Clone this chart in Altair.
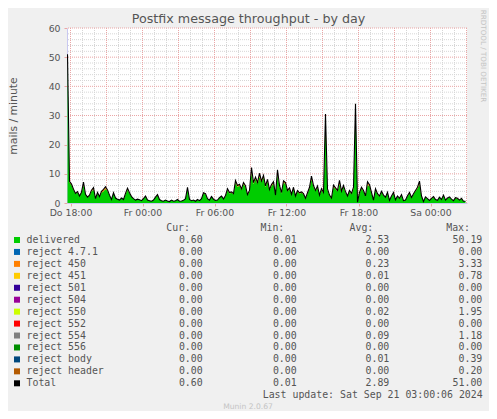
import altair as alt
import pandas as pd

TITLE = "Postfix message throughput - by day"
Y_TITLE = "mails / minute"
RRD_TEXT = "RRDTOOL / TOBI OETIKER"
LAST_UPDATE = "Last update: Sat Sep 21 03:00:06 2024"
MUNIN = "Munin 2.0.67"

# 10-minute samples starting Thu 2024-09-19 17:45
START = "2024-09-19 17:45"

delivered = [
    50.19, 7.0, 6.2, 4.5, 3.3, 3.6, 2.4, 3.5, 6.2, 3.0, 2.0, 2.5, 4.0, 4.7, 1.5, 3.3, 2.2, 3.5, 4.0, 4.8,
    4.2, 2.7, 1.2, 3.3, 1.7, 1.3, 1.0, 1.7, 1.2, 3.0, 4.6, 3.3, 2.2, 1.5, 1.0, 1.3, 1.1, 0.8, 1.5, 2.2,
    1.0, 0.8, 0.6, 1.0, 2.0, 2.7, 1.2, 0.8, 0.6, 1.0, 0.7, 0.5, 1.0, 0.6, 0.8, 1.2, 0.6, 0.7, 0.9, 1.5,
    4.8, 1.2, 0.8, 1.0, 0.6, 1.2, 0.8, 1.5, 3.3, 3.0, 1.5, 1.0, 2.2, 1.3, 0.9, 1.0, 1.8, 2.2, 1.4, 2.4,
    4.5, 3.3, 3.5, 3.0, 7.1, 5.5, 6.0, 4.5, 6.5, 5.5, 2.7, 4.0, 10.2, 6.5, 8.2, 6.5, 9.0, 7.0, 8.8, 5.5,
    7.5, 4.3, 5.8, 6.7, 2.5, 9.9, 5.6, 3.3, 7.0, 6.5, 4.0, 4.8, 2.8, 5.0, 2.2, 4.0, 3.2, 3.5, 3.0, 1.5,
    3.2, 5.0, 8.1, 5.6, 4.0, 5.3, 2.5, 4.5, 3.3, 27.2, 4.5, 2.5, 1.6, 5.6, 4.8, 4.0, 6.5, 3.8, 5.5, 3.6,
    2.2, 4.0, 3.0, 5.0, 33.1, 0.3, 3.3, 5.0, 4.0, 2.2, 6.2, 5.8, 3.3, 1.0, 4.5, 3.0, 2.2, 3.7, 2.5, 1.9,
    3.4, 0.9, 2.2, 3.3, 1.1, 2.2, 1.5, 2.7, 0.8, 1.0, 2.3, 3.3, 1.8, 3.0, 4.0, 5.0, 6.5, 2.2, 0.5, 2.0,
    1.5, 0.9, 1.5, 2.0, 1.2, 0.9, 1.9, 1.2, 2.5, 1.0, 1.6, 2.0, 1.3, 0.8, 1.7, 1.5, 1.0, 1.5, 0.6, 0.6,
]

reject_450 = [
    0.8, 0.4, 0.3, 0.2, 0.0, 0.3, 0.0, 0.2, 0.5, 0.0, 0.0, 0.2, 0.4, 0.6, 0.0, 0.3, 0.0, 0.5, 0.7, 0.4,
    0.3, 0.0, 0.0, 0.2, 0.0, 0.0, 0.0, 0.0, 0.0, 0.3, 0.5, 0.2, 0.0, 0.0, 0.0, 0.0, 0.0, 0.0, 0.0, 0.2,
    0.0, 0.0, 0.0, 0.0, 0.0, 0.2, 0.0, 0.0, 0.0, 0.0, 0.0, 0.0, 0.0, 0.0, 0.0, 0.0, 0.0, 0.0, 0.0, 0.0,
    0.3, 0.0, 0.0, 0.0, 0.0, 0.0, 0.0, 0.0, 0.2, 0.2, 0.0, 0.0, 0.0, 0.0, 0.0, 0.0, 0.0, 0.2, 0.0, 0.2,
    0.4, 0.3, 0.3, 0.2, 0.6, 0.5, 0.4, 0.3, 0.5, 0.4, 0.2, 0.3, 0.8, 0.5, 0.7, 0.5, 0.6, 0.5, 0.7, 0.4,
    0.6, 0.3, 0.5, 0.6, 0.2, 0.7, 0.4, 0.3, 0.6, 0.5, 0.3, 0.4, 0.2, 0.4, 0.2, 0.3, 0.3, 0.3, 0.2, 0.1,
    0.3, 0.4, 0.6, 0.4, 0.3, 0.5, 0.2, 0.4, 0.3, 3.33, 0.3, 0.2, 0.1, 0.5, 0.4, 0.3, 0.6, 0.3, 0.5, 0.3,
    0.2, 0.3, 0.3, 0.4, 0.9, 0.0, 0.3, 0.4, 0.3, 0.2, 0.5, 0.5, 0.3, 0.0, 0.4, 0.2, 0.2, 0.3, 0.2, 0.1,
    0.3, 0.0, 0.2, 0.3, 0.0, 0.2, 0.1, 0.2, 0.0, 0.0, 0.2, 0.3, 0.1, 0.2, 0.3, 0.4, 0.5, 0.2, 0.0, 0.1,
    0.0, 0.0, 0.1, 0.2, 0.0, 0.0, 0.1, 0.0, 0.2, 0.0, 0.1, 0.1, 0.0, 0.0, 0.1, 0.1, 0.0, 0.1, 0.0, 0.0,
]

# sparse: sample index -> value
reject_554_points = {8: 0.5, 19: 0.4, 60: 0.3, 92: 1.18, 96: 0.6, 105: 0.8, 122: 0.5, 136: 0.7, 150: 0.6, 176: 0.5}

legend_names = ["delivered", "reject 4.7.1", "reject 450", "reject 451", "reject 501", "reject 504",
                "reject 550", "reject 552", "reject 554", "reject 556", "reject body", "reject header", "Total"]
legend_colors = ["#00CC00", "#0066B3", "#FF8000", "#FFCC00", "#330099", "#990099",
                 "#CCFF00", "#FF0000", "#808080", "#008F00", "#00487D", "#B35A00", "#000000"]
legend_cur = [0.60, 0, 0, 0, 0, 0, 0, 0, 0, 0, 0, 0, 0.60]
legend_min = [0.01, 0, 0, 0, 0, 0, 0, 0, 0, 0, 0, 0, 0.01]
legend_avg = [2.53, 0.00, 0.23, 0.01, 0.00, 0.00, 0.02, 0.00, 0.09, 0.00, 0.01, 0.00, 2.89]
legend_max = [50.19, 0.00, 3.33, 0.78, 0.00, 0.00, 1.95, 0.00, 1.18, 0.00, 0.39, 0.20, 51.00]
headers = ["Cur:", "Min:", "Avg:", "Max:"]

y_labels = [0, 10, 20, 30, 40, 50, 60]
y_major_grid = [10, 20, 30, 40, 50, 60]
y_minor_grid = [2, 4, 6, 8, 12, 14, 16, 18, 22, 24, 26, 28, 32, 34, 36, 38, 42, 44, 46, 48, 52, 54, 56, 58]
x_label_times = ["2024-09-19 18:00", "2024-09-20 00:00", "2024-09-20 06:00",
                 "2024-09-20 12:00", "2024-09-20 18:00", "2024-09-21 00:00"]
X_START = "2024-09-19 17:42:30"
X_END = "2024-09-21 03:02:30"

# ---------------------------------------------------------------- build tables
FMT = "%Y-%m-%dT%H:%M:%S"
times = pd.date_range(START, periods=len(delivered), freq="10min").strftime(FMT)
reject_554 = [reject_554_points.get(i, 0.0) for i in range(len(delivered))]
stack_series = [("delivered", delivered), ("reject 450", reject_450), ("reject 554", reject_554)]
rows = []
for k, (name, vals) in enumerate(stack_series):
    for t, v in zip(times, vals):
        rows.append({"time": t, "series": name, "value": v, "idx": k})
df = pd.DataFrame(rows)


def dt(s):
    ts = pd.Timestamp(s)
    return alt.DateTime(year=ts.year, month=ts.month, date=ts.day,
                        hours=ts.hour, minutes=ts.minute, seconds=ts.second)


xscale = alt.Scale(domain=[dt(X_START), dt(X_END)])
yscale = alt.Scale(domain=[0, 60], nice=False, zero=True)

grid_major_x = pd.date_range("2024-09-19 18:00", "2024-09-21 03:00", freq="3h")
grid_minor_x = [t for t in pd.date_range("2024-09-19 18:00", "2024-09-21 03:00", freq="1h") if t.hour % 3]

MINOR = "#d6d6d6"
MAJOR = "#eaa6a6"
AXIS_C = "#c8c8f0"
TXT = "#555555"
MONO = "DejaVu Sans Mono"

x_axis = alt.Axis(
    values=[dt(s) for s in x_label_times],
    labelExpr="['So','Mo','Di','Mi','Do','Fr','Sa'][day(datum.value)] + ' ' + timeFormat(datum.value, '%H:%M')",
    title=None, grid=False, domainColor=AXIS_C, tickColor=MAJOR, tickSize=3, labelPadding=2.5,
    labelOverlap=False, labelFlush=False)
y_axis = alt.Axis(
    values=y_labels, tickCount=7, format="d", title=Y_TITLE, grid=False, domainColor=AXIS_C,
    tickColor=MAJOR, tickSize=3, labelPadding=4, labelOverlap=False, labelFlush=False,
    titleAngle=270, titleX=-53.5, titleY=87.5, titleAlign="center", titleBaseline="middle")

# every plot layer carries the same shared axis definition
X = lambda f: alt.X(f, scale=xscale, axis=x_axis)
Y = lambda f, **kw: alt.Y(f, scale=yscale, axis=y_axis, **kw)

hminor = alt.Chart(pd.DataFrame({"value": y_minor_grid})).mark_rule(
    color=MINOR, strokeDash=[1, 1], strokeWidth=1).encode(y=Y("value:Q"))
vminor = alt.Chart(pd.DataFrame({"time": pd.DatetimeIndex(grid_minor_x).strftime(FMT)})).mark_rule(
    color=MINOR, strokeDash=[1, 1], strokeWidth=1).encode(x=X("time:T"))
hmajor = alt.Chart(pd.DataFrame({"value": y_major_grid})).mark_rule(
    color=MAJOR, strokeDash=[1, 1], strokeWidth=1).encode(y=Y("value:Q"))
vmajor = alt.Chart(pd.DataFrame({"time": grid_major_x.strftime(FMT)})).mark_rule(
    color=MAJOR, strokeDash=[1, 1], strokeWidth=1).encode(x=X("time:T"))

area = alt.Chart(df).mark_area(clip=True, interpolate="linear").encode(
    x=X("time:T"),
    y=Y("value:Q", stack="zero"),
    color=alt.Color("series:N", scale=alt.Scale(domain=[s for s, _ in stack_series],
                                                range=["#00CC00", "#FF8000", "#808080"]), legend=None),
    order=alt.Order("idx:Q", sort="ascending"),
)
total_line = alt.Chart(df).transform_aggregate(
    value="sum(value)", groupby=["time"]
).mark_line(color="black", strokeWidth=1.1, clip=True).encode(
    x=X("time:T"),
    y=Y("value:Q"),
)

plot = alt.layer(hminor, vminor, hmajor, vmajor, area, total_line)

# ---------------------------------------------------------------- legend table
leg = pd.DataFrame({
    "row": list(range(len(legend_names))),
    "name": legend_names, "color": legend_colors,
    "cur": legend_cur, "min": legend_min, "avg": legend_avg, "max": legend_max,
})
yleg = alt.Y("row:Q", scale=alt.Scale(domain=[0, 12], range=[212, 355.3]), axis=None)
text_kw = dict(font=MONO, fontSize=9.9, color=TXT, baseline="middle")

squares = alt.Chart(leg).mark_square(size=36, opacity=1).encode(
    x=alt.value(-50), y=yleg, color=alt.Color("color:N", scale=None))
names = alt.Chart(leg).mark_text(align="left", **text_kw).encode(
    x=alt.value(-40.5), y=yleg, text="name:N")
value_cols = []
for field, xpos in [("cur", 135.7), ("min", 229.7), ("avg", 322.3), ("max", 415.3)]:
    value_cols.append(alt.Chart(leg).mark_text(align="right", **text_kw).encode(
        x=alt.value(xpos), y=yleg, text=alt.Text(f"{field}:Q", format=".2f")))

hdr = pd.DataFrame({"row": [-1] * 4, "h": headers})
header_cols = []
for i, xpos in enumerate([123.0, 217.3, 306.3, 403.0]):
    header_cols.append(alt.Chart(hdr).transform_filter(f"datum.h == '{headers[i]}'").mark_text(
        align="right", **text_kw).encode(x=alt.value(xpos), y=yleg, text="h:N"))

foot = pd.DataFrame({"row": [13], "t": [LAST_UPDATE]})
footer = alt.Chart(foot).mark_text(align="right", **text_kw).encode(
    x=alt.value(415.7), y=yleg, text="t:N")
mun = pd.DataFrame({"row": [14], "t": [MUNIN]})
munin = alt.Chart(mun).mark_text(align="center", font="DejaVu Sans", fontSize=7.6,
                                 color="#c4c4c4", baseline="middle").encode(
    x=alt.value(181), y=yleg, text="t:N")
rrd = alt.Chart(pd.DataFrame({"t": [RRD_TEXT]})).mark_text(
    angle=90, font="DejaVu Sans", fontSize=7.2, color="#c4c4c4", baseline="middle", align="center"
).encode(x=alt.value(415.5), y=alt.value(28), text="t:N")
title_mark = alt.Chart(pd.DataFrame({"t": [TITLE]})).mark_text(
    font="DejaVu Sans", fontSize=12.7, color=TXT, baseline="alphabetic", align="center"
).encode(x=alt.value(181.5), y=alt.value(-5.5), text="t:N")

legend = alt.layer(squares, names, *value_cols, *header_cols, footer, munin, rrd, title_mark)

chart = alt.layer(plot, legend).resolve_scale(
    x="independent", y="independent", color="independent"
).properties(
    width=400, height=175,
    autosize=alt.AutoSizeParams(type="none"),
    padding={"left": 59, "top": 20, "right": 22, "bottom": 208},
    background="#f0f0f0",
).configure_view(fill="white", stroke=None).configure_axis(
    labelFont="DejaVu Sans", labelFontSize=9.33, labelColor=TXT,
    titleFont="DejaVu Sans", titleFontSize=10.8, titleColor=TXT, titleFontWeight="normal",
    domainWidth=1,
)

chart.save("out.html", embed_options={"renderer": "svg", "actions": False})
